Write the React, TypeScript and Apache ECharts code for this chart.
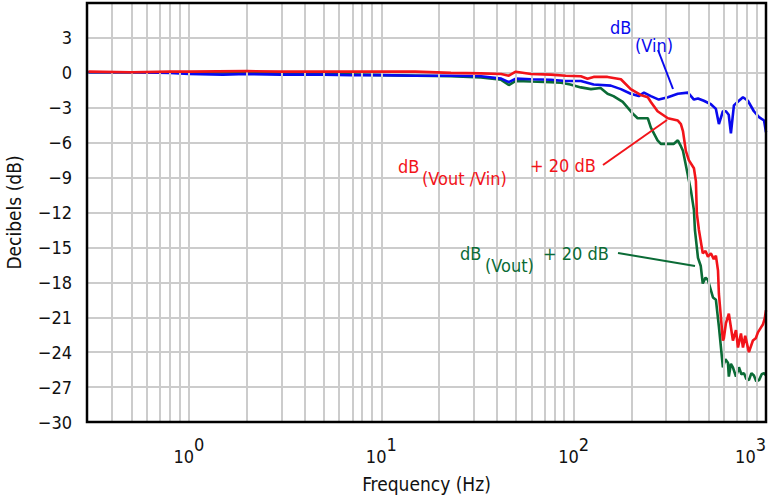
import React, { useEffect, useRef } from "react";
import * as echarts from "echarts";

// ---- data (frequency in Hz, level in dB) ----
const vinFreq = [0.3, 0.5, 0.8, 1.0, 1.5, 2, 3, 5, 7, 10, 15, 23, 33, 42, 46, 50, 60, 76, 91, 109, 127, 156, 176, 198, 218, 232, 252, 277, 309, 348, 393, 422, 443, 475, 517, 549, 569, 597, 619, 640, 657, 681, 723, 759, 805, 865, 920, 977, 1000];
const vinDb = [0.05, 0.05, 0.0, -0.1, -0.15, -0.1, -0.15, -0.15, -0.2, -0.2, -0.25, -0.25, -0.3, -0.5, -0.8, -0.5, -0.55, -0.6, -0.7, -0.7, -1.0, -1.1, -1.4, -1.8, -2.0, -1.7, -2.0, -2.3, -2.1, -1.8, -1.7, -2.3, -2.2, -2.4, -2.7, -3.1, -4.4, -3.3, -3.3, -3.6, -5.2, -2.8, -2.4, -2.1, -2.4, -3.3, -3.8, -4.1, -5.1];

const ratioFreq = [0.3, 0.5, 0.8, 1, 2, 3, 5, 7, 10, 15, 23, 33, 42, 46, 50, 60, 76, 91, 109, 118, 127, 150, 176, 198, 223, 243, 252, 273, 309, 348, 361, 370, 383, 397, 422, 432, 437, 448, 469, 485, 499, 517, 535, 549, 563, 569, 597, 604, 619, 641, 673, 698, 715, 741, 759, 780, 815, 855, 885, 908, 965, 985, 1000];
const ratioDb = [0.1, 0.05, 0.1, 0.1, 0.15, 0.1, 0.1, 0.1, 0.1, 0.1, 0.0, -0.05, -0.1, -0.25, 0.1, -0.1, -0.15, -0.25, -0.3, -0.5, -0.35, -0.35, -0.55, -1.4, -1.9, -2.1, -2.5, -3.3, -3.9, -4.1, -4.4, -5.0, -6.7, -7.5, -8.2, -9.3, -12.1, -13.5, -15.5, -15.3, -15.8, -15.5, -16.0, -15.7, -17.0, -19.0, -23.0, -22.8, -21.5, -20.7, -23.0, -22.1, -23.6, -22.4, -23.6, -22.6, -24.0, -23.0, -22.8, -22.3, -21.6, -21.1, -20.4];

const voutFreq = [0.3, 1, 3, 10, 23, 33, 42, 46, 50, 60, 76, 86, 96, 109, 123, 138, 150, 161, 180, 203, 215, 243, 252, 273, 284, 332, 348, 361, 370, 407, 422, 427, 443, 458, 469, 485, 499, 530, 549, 569, 597, 615, 634, 641, 657, 673, 698, 723, 745, 768, 790, 815, 840, 865, 890, 920, 950, 977, 1000];
const voutDb = [0.05, 0.05, 0.0, -0.2, -0.3, -0.4, -0.6, -1.05, -0.7, -0.75, -0.8, -0.85, -1.0, -1.25, -1.4, -1.3, -1.8, -2.0, -2.5, -3.5, -3.9, -3.9, -4.7, -5.8, -6.1, -6.1, -5.8, -6.3, -6.7, -10.1, -11.8, -13.5, -15.9, -16.6, -18.1, -17.6, -17.8, -19.3, -19.5, -21.8, -25.3, -24.6, -24.9, -26.1, -25.0, -25.3, -26.1, -25.3, -25.9, -25.8, -26.3, -26.4, -25.8, -26.0, -26.5, -26.4, -25.9, -25.8, -26.0];

const gridFreqs = [0.4, 0.5, 0.6, 0.7, 0.8, 0.9, 1, 2, 3, 4, 5, 6, 7, 8, 9, 10, 20, 30, 40, 50, 60, 70, 80, 90, 100, 200, 300, 400, 500, 600, 700, 800, 900];
const decadeLabels = [0, 1, 2, 3];
const yTicks = [3, 0, -3, -6, -9, -12, -15, -18, -21, -24, -27, -30];

const FONT = "'Liberation Sans Narrow', 'Arial Narrow', 'DejaVu Sans Condensed', 'Roboto Condensed', sans-serif";
const BLUE = "#0a0aee";
const RED = "#f2141a";
const GREEN = "#0b6b36";
const GRIDC = "#cccccc";

const toPts = (f: number[], d: number[]) => f.map((v, i) => [Math.log10(v), d[i]]);

export default function App() {
  const ref = useRef<HTMLDivElement>(null);
  useEffect(() => {
    if (!ref.current) return;
    const chart = echarts.init(ref.current, undefined, { renderer: "svg" });
    const lineSeries = (name: string, pts: number[][], color: string, z: number) => ({
      name,
      type: "line",
      data: pts,
      showSymbol: false,
      symbol: "none",
      z,
      lineStyle: { color, width: 2.6 },
      itemStyle: { color },
      silent: true,
    });
    const txt = (text: string, x: number, y: number, color: string) => ({
      type: "text",
      x,
      y,
      silent: true,
      style: { text, fill: color, font: `18px ${FONT}`, verticalAlign: "middle", align: "left" },
      z: 100,
    });
    const ln = (x1: number, y1: number, x2: number, y2: number, color: string) => ({
      type: "line",
      shape: { x1, y1, x2, y2 },
      silent: true,
      style: { stroke: color, lineWidth: 2 },
      z: 100,
    });
    chart.setOption({
      animation: false,
      backgroundColor: "#ffffff",
      grid: {
        left: 87,
        right: 8,
        top: 3,
        bottom: 75,
        show: true,
        borderColor: "#000",
        borderWidth: 2.5,
        z: 10,
        outerBoundsMode: "none",
        containLabel: false,
      },
      xAxis: {
        type: "value",
        min: Math.log10(0.295),
        max: 3,
        name: "Frequency (Hz)",
        nameLocation: "middle",
        nameGap: 52,
        nameTextStyle: { fontFamily: FONT, fontSize: 19, color: "#111" },
        axisLine: { show: false },
        axisTick: { show: false },
        splitLine: { show: false },
        axisLabel: {
          customValues: decadeLabels,
          margin: 13,
          alignMaxLabel: "right",
          formatter: (v: number) => `{b|10}{s|${Math.round(v)}}`,
          rich: {
            b: { fontFamily: FONT, fontSize: 18, color: "#111", lineHeight: 30, verticalAlign: "bottom" },
            s: { fontFamily: FONT, fontSize: 18, color: "#111", lineHeight: 18, verticalAlign: "top" },
          },
        },
      },
      yAxis: {
        type: "value",
        min: -30,
        max: 6,
        interval: 3,
        name: "Decibels (dB)",
        nameLocation: "middle",
        nameGap: 64,
        nameTextStyle: { fontFamily: FONT, fontSize: 19, color: "#111" },
        axisLine: { show: false },
        axisTick: { show: false },
        splitLine: { show: true, lineStyle: { color: GRIDC, width: 2 } },
        axisLabel: {
          margin: 15,
          fontFamily: FONT,
          fontSize: 18,
          color: "#111",
          formatter: (v: number) => (yTicks.includes(v) ? (v < 0 ? "\u2212" + Math.abs(v) : String(v)) : ""),
        },
      },
      series: [
        {
          type: "line",
          data: [],
          silent: true,
          z: 1,
          markLine: {
            silent: true,
            symbol: ["none", "none"],
            label: { show: false },
            lineStyle: { color: GRIDC, width: 2, type: "solid" },
            data: gridFreqs.map((f) => ({ xAxis: Math.log10(f) })),
          },
        },
        lineSeries("dB(Vout) + 20 dB", toPts(voutFreq, voutDb), GREEN, 3),
        lineSeries("dB(Vin)", toPts(vinFreq, vinDb), BLUE, 4),
        lineSeries("dB(Vout/Vin) + 20 dB", toPts(ratioFreq, ratioDb), RED, 5),
      ],
      graphic: [
        txt("dB", 610, 27, BLUE),
        txt("(Vin)", 635, 45, BLUE),
        ln(658, 50, 673, 89, BLUE),
        txt("dB", 398, 166, RED),
        txt("(Vout /Vin)", 422, 178, RED),
        txt("+ 20 dB", 530, 165, RED),
        ln(603, 165, 667, 120, RED),
        txt("dB", 460, 253, GREEN),
        txt("(Vout)", 485, 265, GREEN),
        txt("+ 20 dB", 543, 253, GREEN),
        ln(618, 253, 695, 266, GREEN),
      ],
    });
    return () => chart.dispose();
  }, []);
  return <div ref={ref} style={{ position: "absolute", left: 0, top: 0, width: 774, height: 497 }} />;
}
